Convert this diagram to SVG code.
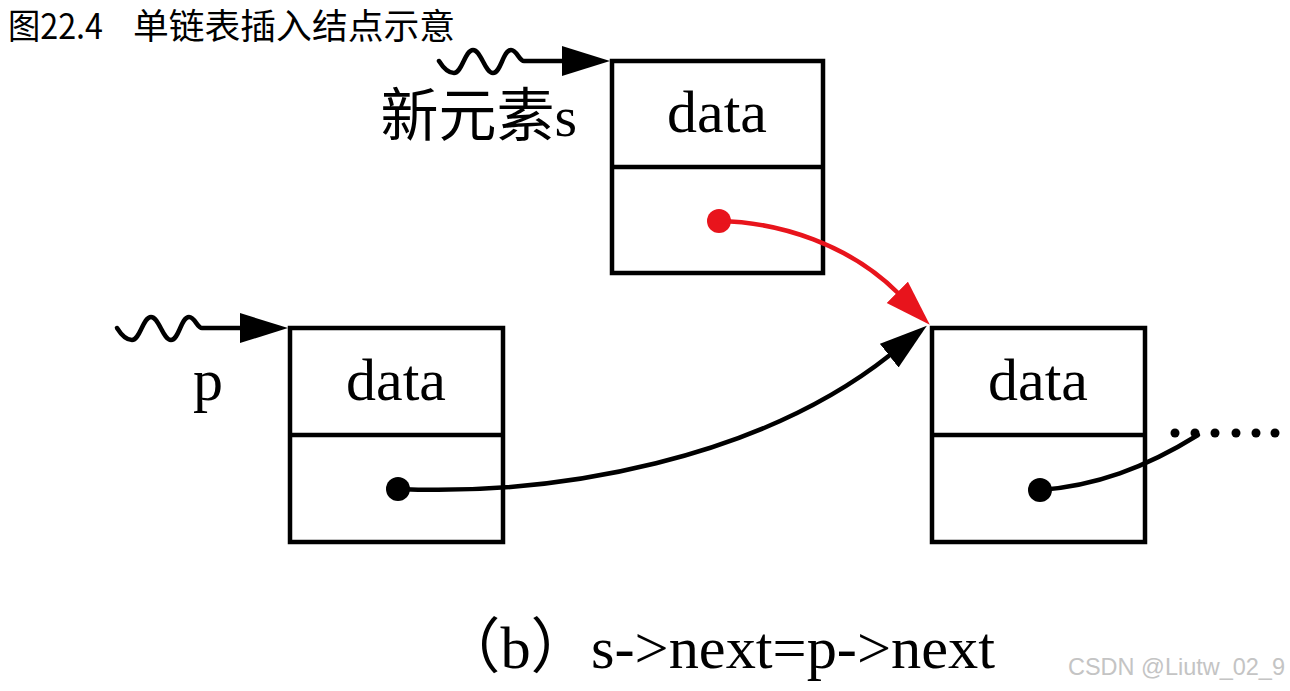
<svg xmlns="http://www.w3.org/2000/svg" width="1290" height="691" viewBox="0 0 1290 691">
  <style>
    .box { fill: none; stroke: #000; stroke-width: 4.5; stroke-linejoin: miter; }
    .div { stroke: #000; stroke-width: 4.5; }
    .serif { font-family: "Liberation Serif", "Noto Sans CJK SC", serif; fill: #000; }
    .data { font-size: 60px; text-anchor: middle; }
    .title { font-family: "Noto Sans CJK SC", "Noto Sans", sans-serif; font-size: 35px; fill: #000; }
    .wire { fill: none; stroke: #000; stroke-width: 4.5; stroke-linecap: round; }
    .red { fill: none; stroke: #e8141c; stroke-width: 4.5; stroke-linecap: round; }
  </style>
  <defs>
    <marker id="arrBlack" markerUnits="userSpaceOnUse" markerWidth="50" markerHeight="32" refX="1" refY="15" orient="auto" viewBox="0 0 50 32">
      <path d="M0,0 L48,15 L0,30 Z" fill="#000"/>
    </marker>
    <marker id="arrRed" markerUnits="userSpaceOnUse" markerWidth="50" markerHeight="32" refX="1" refY="15" orient="auto" viewBox="0 0 50 32">
      <path d="M0,0 L46,15 L0,30 Z" fill="#e8141c"/>
    </marker>
  </defs>
  <rect width="1290" height="691" fill="#fff"/>

  <text class="title" x="8" y="39" textLength="95" lengthAdjust="spacingAndGlyphs">图22.4</text>
  <text class="title" x="133" y="39" textLength="322" lengthAdjust="spacingAndGlyphs">单链表插入结点示意</text>

  <g id="node-s">
    <rect class="box" x="612" y="61" width="211" height="212"/>
    <line class="div" x1="612" y1="167" x2="823" y2="167"/>
    <text class="serif data" x="717" y="132">data</text>
    <text class="serif" x="577" y="136" font-size="58" text-anchor="end">新元素s</text>
  </g>

  <g id="node-p">
    <rect class="box" x="290" y="328" width="213" height="214"/>
    <line class="div" x1="290" y1="435" x2="503" y2="435"/>
    <text class="serif data" x="396" y="400">data</text>
    <text class="serif" x="193" y="400" font-size="60">p</text>
  </g>

  <g id="node-next">
    <rect class="box" x="932" y="328" width="213" height="214"/>
    <line class="div" x1="932" y1="435" x2="1145" y2="435"/>
    <text class="serif data" x="1038" y="400">data</text>
  </g>

  <g id="connectors">
    <path class="wire" d="M117,328 C122,336 127,340 132,340 C140,340 143,317 151,317 C159,317 163,340 171,340 C179,340 181,317 189,317 C195,317 197,328 202,328 L241,328" marker-end="url(#arrBlack)"/>
    <path class="wire" transform="translate(322,-267)" d="M117,328 C122,336 127,340 132,340 C140,340 143,317 151,317 C159,317 163,340 171,340 C179,340 181,317 189,317 C195,317 197,328 202,328 L241,328" marker-end="url(#arrBlack)"/>

    <circle cx="398" cy="489" r="12" fill="#000"/>
    <path class="wire" d="M398,489 C560,496 760,458 890,355" marker-end="url(#arrBlack)"/>

    <circle cx="719" cy="221" r="12" fill="#e8141c"/>
    <path class="red" d="M719,221 C780,222 850,245 898,293" marker-end="url(#arrRed)"/>

    <circle cx="1040" cy="490" r="12" fill="#000"/>
    <path class="wire" d="M1040,490 C1095,486 1145,468 1198,435"/>
    <g fill="#000">
      <circle cx="1175" cy="433" r="4.5"/>
      <circle cx="1195" cy="433" r="4.5"/>
      <circle cx="1215" cy="433" r="4.5"/>
      <circle cx="1236" cy="433" r="4.5"/>
      <circle cx="1256" cy="433" r="4.5"/>
      <circle cx="1275" cy="433" r="4.5"/>
    </g>
  </g>

  <text class="serif" x="440" y="668" font-size="60" textLength="555" lengthAdjust="spacingAndGlyphs">（b）s-&gt;next=p-&gt;next</text>
  <text x="1068" y="675" font-family="'Liberation Sans', Arial, sans-serif" font-size="24" textLength="217" lengthAdjust="spacingAndGlyphs" fill="#c4c4c4">CSDN @Liutw_02_9</text>
</svg>
